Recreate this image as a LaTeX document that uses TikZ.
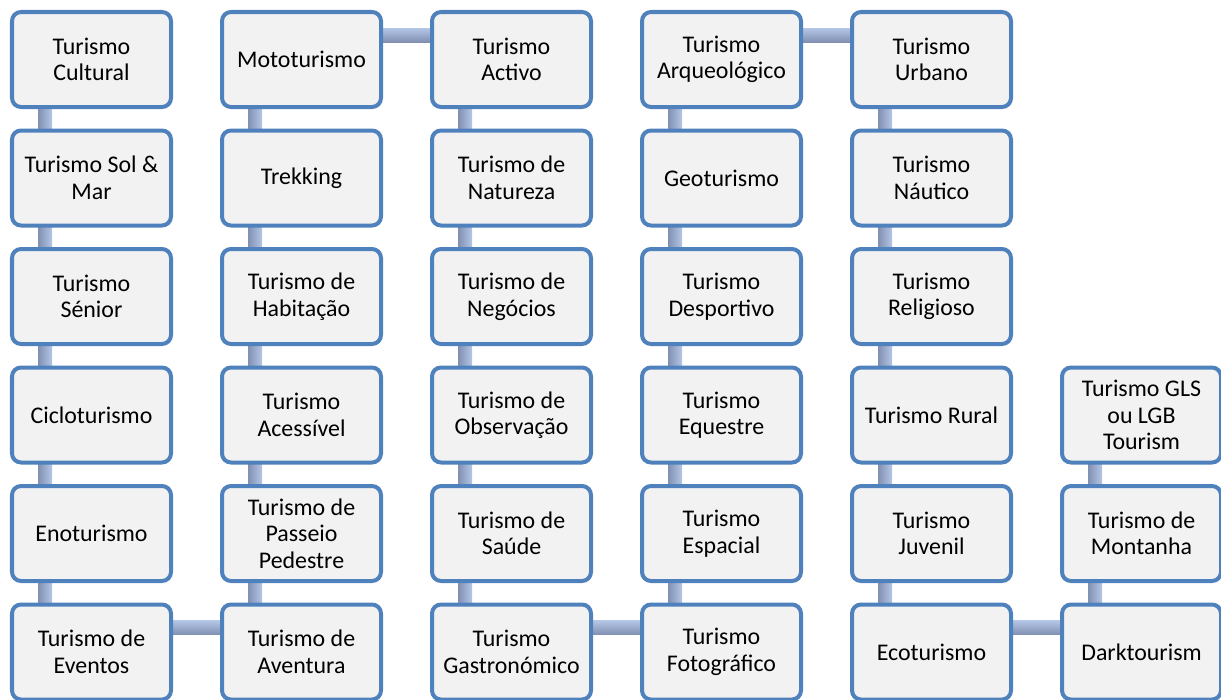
\documentclass[tikz,border=0pt]{standalone}
\usepackage{fontspec}
\setmainfont{Carlito}
\usepackage{xcolor}
\usetikzlibrary{positioning, calc}
\definecolor{boxline}{HTML}{4F81BD}
\definecolor{boxfill}{HTML}{F2F2F2}
\definecolor{barlight}{HTML}{B4C6E6}
\definecolor{bardark}{HTML}{8190B2}
\definecolor{barwhite}{HTML}{E8EEF8}
\pgfdeclarelayer{background}
\pgfsetlayers{background,main}
\tikzset{
  tourbox/.style={draw=boxline, fill=boxfill, line width=0.08cm, rounded corners=0.18cm, minimum width=3.18cm, minimum height=1.9cm, align=center, inner sep=2pt, font=\fontsize{13.6}{15.1}\selectfont},
  vlink/.style={left color=bardark, middle color=barwhite, right color=barlight},
  hlink/.style={top color=barlight, middle color=barwhite, bottom color=bardark}
}

\begin{document}
\begin{tikzpicture}[node distance=0.39cm and 0.94cm]
\useasboundingbox (0,0) rectangle (24.42,-14);

% Nodes
\node[tourbox, anchor=north west] (A1) at (0.2,-0.2) {Turismo\\Cultural};
\node[tourbox, below=of A1] (A2) {Turismo Sol \&\\Mar};
\node[tourbox, below=of A2] (A3) {Turismo\\Sénior};
\node[tourbox, below=of A3] (A4) {Cicloturismo};
\node[tourbox, below=of A4] (A5) {Enoturismo};
\node[tourbox, below=of A5] (A6) {Turismo de\\Eventos};

\node[tourbox, right=of A6] (B6) {Turismo de\\Aventura};
\node[tourbox, above=of B6] (B5) {Turismo de\\Passeio\\Pedestre};
\node[tourbox, above=of B5] (B4) {Turismo\\Acessível};
\node[tourbox, above=of B4] (B3) {Turismo de\\Habitação};
\node[tourbox, above=of B3] (B2) {Trekking};
\node[tourbox, above=of B2] (B1) {Mototurismo};

\node[tourbox, right=of B1] (C1) {Turismo\\Activo};
\node[tourbox, below=of C1] (C2) {Turismo de\\Natureza};
\node[tourbox, below=of C2] (C3) {Turismo de\\Negócios};
\node[tourbox, below=of C3] (C4) {Turismo de\\Observação};
\node[tourbox, below=of C4] (C5) {Turismo de\\Saúde};
\node[tourbox, below=of C5] (C6) {Turismo\\Gastronómico};

\node[tourbox, right=of C6] (D6) {Turismo\\Fotográfico};
\node[tourbox, above=of D6] (D5) {Turismo\\Espacial};
\node[tourbox, above=of D5] (D4) {Turismo\\Equestre};
\node[tourbox, above=of D4] (D3) {Turismo\\Desportivo};
\node[tourbox, above=of D3] (D2) {Geoturismo};
\node[tourbox, above=of D2] (D1) {Turismo\\Arqueológico};

\node[tourbox, right=of D1] (E1) {Turismo\\Urbano};
\node[tourbox, below=of E1] (E2) {Turismo\\Náutico};
\node[tourbox, below=of E2] (E3) {Turismo\\Religioso};
\node[tourbox, below=of E3] (E4) {Turismo Rural};
\node[tourbox, below=of E4] (E5) {Turismo\\Juvenil};
\node[tourbox, below=of E5] (E6) {Ecoturismo};

\node[tourbox, right=of E6] (F6) {Darktourism};
\node[tourbox, above=of F6] (F5) {Turismo de\\Montanha};
\node[tourbox, above=of F5] (F4) {Turismo GLS\\ou LGB\\Tourism};

% Links
\begin{pgfonlayer}{background}
\shade[vlink] ($(A1.south west)+(0.56,0.3)$) rectangle ($(A2.north west)+(0.84,-0.3)$);
\shade[vlink] ($(A2.south west)+(0.56,0.3)$) rectangle ($(A3.north west)+(0.84,-0.3)$);
\shade[vlink] ($(A3.south west)+(0.56,0.3)$) rectangle ($(A4.north west)+(0.84,-0.3)$);
\shade[vlink] ($(A4.south west)+(0.56,0.3)$) rectangle ($(A5.north west)+(0.84,-0.3)$);
\shade[vlink] ($(A5.south west)+(0.56,0.3)$) rectangle ($(A6.north west)+(0.84,-0.3)$);
\shade[hlink] ($(A6.north east)+(-0.3,-0.36)$) rectangle ($(B6.north west)+(0.3,-0.64)$);
\shade[vlink] ($(B5.south west)+(0.56,0.3)$) rectangle ($(B6.north west)+(0.84,-0.3)$);
\shade[vlink] ($(B4.south west)+(0.56,0.3)$) rectangle ($(B5.north west)+(0.84,-0.3)$);
\shade[vlink] ($(B3.south west)+(0.56,0.3)$) rectangle ($(B4.north west)+(0.84,-0.3)$);
\shade[vlink] ($(B2.south west)+(0.56,0.3)$) rectangle ($(B3.north west)+(0.84,-0.3)$);
\shade[vlink] ($(B1.south west)+(0.56,0.3)$) rectangle ($(B2.north west)+(0.84,-0.3)$);
\shade[hlink] ($(B1.north east)+(-0.3,-0.36)$) rectangle ($(C1.north west)+(0.3,-0.64)$);
\shade[vlink] ($(C1.south west)+(0.56,0.3)$) rectangle ($(C2.north west)+(0.84,-0.3)$);
\shade[vlink] ($(C2.south west)+(0.56,0.3)$) rectangle ($(C3.north west)+(0.84,-0.3)$);
\shade[vlink] ($(C3.south west)+(0.56,0.3)$) rectangle ($(C4.north west)+(0.84,-0.3)$);
\shade[vlink] ($(C4.south west)+(0.56,0.3)$) rectangle ($(C5.north west)+(0.84,-0.3)$);
\shade[vlink] ($(C5.south west)+(0.56,0.3)$) rectangle ($(C6.north west)+(0.84,-0.3)$);
\shade[hlink] ($(C6.north east)+(-0.3,-0.36)$) rectangle ($(D6.north west)+(0.3,-0.64)$);
\shade[vlink] ($(D5.south west)+(0.56,0.3)$) rectangle ($(D6.north west)+(0.84,-0.3)$);
\shade[vlink] ($(D4.south west)+(0.56,0.3)$) rectangle ($(D5.north west)+(0.84,-0.3)$);
\shade[vlink] ($(D3.south west)+(0.56,0.3)$) rectangle ($(D4.north west)+(0.84,-0.3)$);
\shade[vlink] ($(D2.south west)+(0.56,0.3)$) rectangle ($(D3.north west)+(0.84,-0.3)$);
\shade[vlink] ($(D1.south west)+(0.56,0.3)$) rectangle ($(D2.north west)+(0.84,-0.3)$);
\shade[hlink] ($(D1.north east)+(-0.3,-0.36)$) rectangle ($(E1.north west)+(0.3,-0.64)$);
\shade[vlink] ($(E1.south west)+(0.56,0.3)$) rectangle ($(E2.north west)+(0.84,-0.3)$);
\shade[vlink] ($(E2.south west)+(0.56,0.3)$) rectangle ($(E3.north west)+(0.84,-0.3)$);
\shade[vlink] ($(E3.south west)+(0.56,0.3)$) rectangle ($(E4.north west)+(0.84,-0.3)$);
\shade[vlink] ($(E4.south west)+(0.56,0.3)$) rectangle ($(E5.north west)+(0.84,-0.3)$);
\shade[vlink] ($(E5.south west)+(0.56,0.3)$) rectangle ($(E6.north west)+(0.84,-0.3)$);
\shade[hlink] ($(E6.north east)+(-0.3,-0.36)$) rectangle ($(F6.north west)+(0.3,-0.64)$);
\shade[vlink] ($(F5.south west)+(0.56,0.3)$) rectangle ($(F6.north west)+(0.84,-0.3)$);
\shade[vlink] ($(F4.south west)+(0.56,0.3)$) rectangle ($(F5.north west)+(0.84,-0.3)$);
\end{pgfonlayer}

\end{tikzpicture}
\end{document}
